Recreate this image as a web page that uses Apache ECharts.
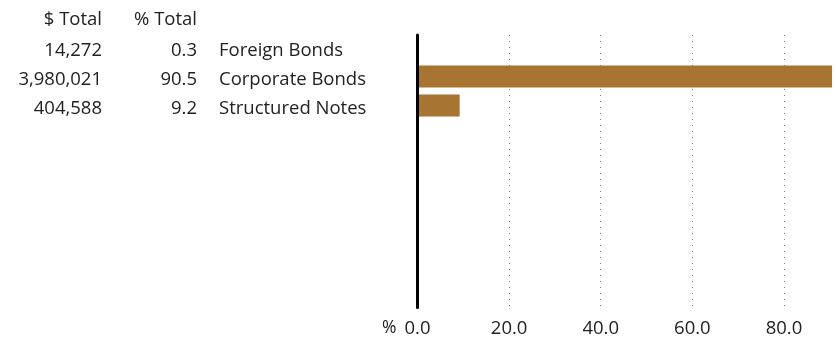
<!DOCTYPE html>
<html><head><meta charset="utf-8">
<script src="https://cdn.jsdelivr.net/npm/echarts@6/dist/echarts.min.js"></script>
<style>html,body{margin:0;padding:0;background:#fff}#c{width:836px;height:339px}</style>
</head><body><div id="c"></div>
<script>
const categories = ['Foreign Bonds', 'Corporate Bonds', 'Structured Notes'];
const dollarTotals = ['14,272', '3,980,021', '404,588'];
const pctTotals = [0.3, 90.5, 9.2];
const headers = ['$ Total', '% Total'];
const xTicks = [0, 20, 40, 60, 80];

const FONT = '"Open Sans", sans-serif';
const TXT = '#222';
const FS = 18.5;
const XMAX = 91.36;
const L = 417.5;

const chart = echarts.init(document.getElementById('c'), null, {renderer: 'canvas'});
const catAxis = (offset, labels, align) => ({
  type: 'category', gridIndex: 2, data: labels, inverse: true, position: 'left', offset: offset,
  axisLine: {show: false}, axisTick: {show: false}, splitLine: {show: false},
  axisLabel: {show: true, margin: 0, align: align, color: TXT, fontFamily: FONT, fontSize: FS}
});
chart.setOption({
  animation: false,
  grid: [
    {left: L, right: 0, top: 33, height: 87},
    {left: L, right: 0, top: 35, bottom: 31.5},
    {left: L, right: 0, top: 36, height: 87}
  ],
  xAxis: [
    {type: 'value', gridIndex: 0, min: 0, max: XMAX, show: false},
    {type: 'value', gridIndex: 1, min: 0, max: XMAX, interval: 20,
     axisLine: {show: false}, axisTick: {show: false},
     axisLabel: {show: true, margin: 12, color: TXT, fontFamily: FONT, fontSize: FS, showMaxLabel: false,
       formatter: v => xTicks.indexOf(v) >= 0 ? v.toFixed(1) : ''},
     splitLine: {show: true, showMinLine: false, showMaxLine: false, lineStyle: {color: '#7f7f75', width: 1, type: [1, 5]}}},
    {type: 'value', gridIndex: 2, min: 0, max: XMAX, show: false}
  ],
  yAxis: [
    {type: 'category', gridIndex: 0, data: categories, inverse: true, show: false},
    catAxis(L - 102, dollarTotals, 'right'),
    catAxis(L - 197, pctTotals.map(v => v.toFixed(1)), 'right'),
    catAxis(L - 219, categories, 'left'),
    {type: 'value', gridIndex: 1, min: 0, max: 1, position: 'left', z: 10,
     axisLine: {show: true, lineStyle: {color: '#000', width: 3}},
     axisTick: {show: false}, axisLabel: {show: false}, splitLine: {show: false}}
  ],
  graphic: [
    {type: 'text', right: 836 - 102, top: 10, z: 10, style: {text: headers[0], fill: TXT, font: FS + 'px ' + FONT, textAlign: 'right'}},
    {type: 'text', right: 836 - 197, top: 10, z: 10, style: {text: headers[1], fill: TXT, font: FS + 'px ' + FONT, textAlign: 'right'}},
    {type: 'text', left: 382, top: 319, z: 10, style: {text: '%', fill: TXT, font: (FS - 1) + 'px ' + FONT}}
  ],
  series: [{
    type: 'bar', xAxisIndex: 0, yAxisIndex: 0, data: pctTotals, barWidth: 22,
    itemStyle: {color: '#A87432'}, z: 1
  }]
});
</script></body></html>
